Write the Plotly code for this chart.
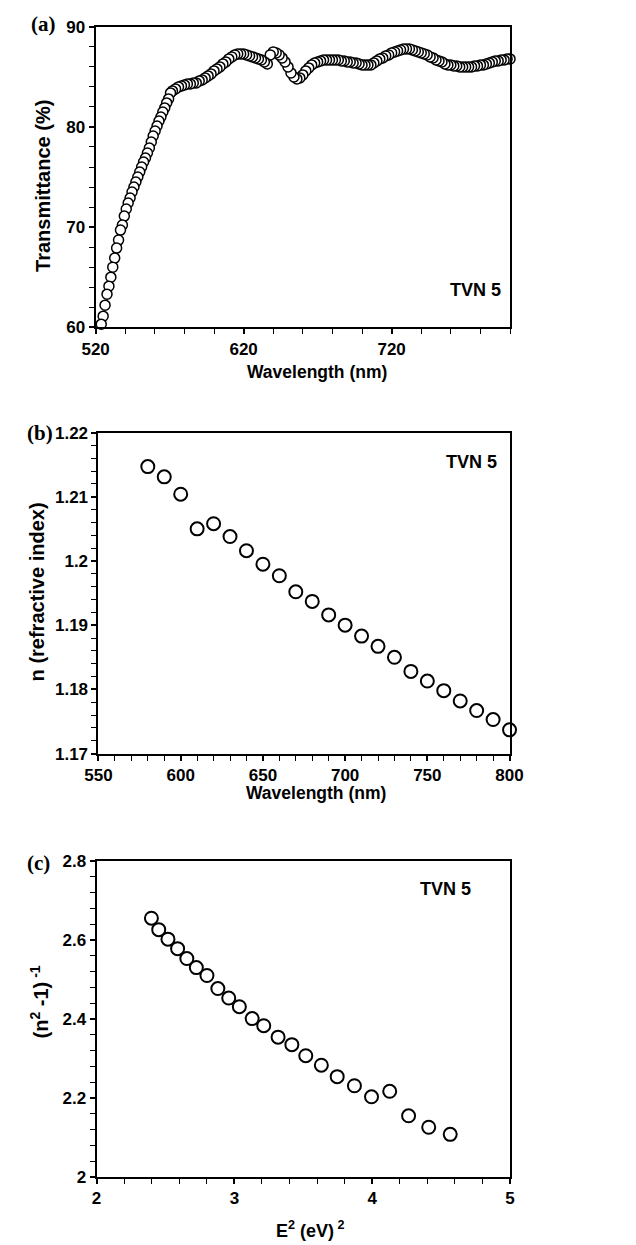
import plotly.graph_objects as go

W, H = 636, 1245

# ---------------- Panel (a): transmittance spectrum ----------------
wl_a = [523.8, 525.1, 526.4, 527.7, 529.0, 530.3, 531.6, 532.9, 534.2, 535.5,
        536.8, 538.1, 539.4, 540.7, 542.0, 543.3, 544.6, 545.9, 547.2, 548.5,
        549.8, 551.1, 552.4, 553.7, 555.0, 556.3, 557.6, 558.9, 560.2, 561.5,
        562.8, 564.1, 565.4, 566.7, 568.0, 569.3, 570.6, 571.9,
        574, 576, 578, 580, 582, 584, 586, 588, 590, 592, 594, 596, 598, 600,
        602, 604, 606, 608, 610, 612, 614, 616, 618, 620, 622, 624, 626, 628,
        630, 632, 634, 636, 638, 640, 642, 644, 646, 648, 650, 652, 654, 656,
        658, 660, 662, 664, 666, 668, 670, 672, 674, 676, 678, 680, 682, 684,
        686, 688, 690, 692, 694, 696, 698, 700, 702, 704, 706, 708, 710, 712,
        714, 716, 718, 720, 722, 724, 726, 728, 730, 732, 734, 736, 738, 740,
        742, 744, 746, 748, 750, 752, 754, 756, 758, 760, 762, 764, 766, 768,
        770, 772, 774, 776, 778, 780, 782, 784, 786, 788, 790, 792, 794, 796,
        798, 800]
tr_a = [60.3, 61.1, 62.2, 63.3, 64.1, 65.0, 66.0, 66.9, 67.9, 68.7,
        69.7, 70.2, 71.1, 71.8, 72.4, 72.9, 73.5, 74.0, 74.5, 75.0,
        75.5, 76.0, 76.5, 76.9, 77.4, 77.9, 78.5, 79.1, 79.6, 80.1,
        80.6, 81.0, 81.5, 81.9, 82.4, 82.8, 83.4, 83.6,
        83.8, 84.0, 84.1, 84.2, 84.3, 84.3, 84.4, 84.4, 84.6, 84.7, 84.9, 85.1, 85.3, 85.6,
        85.8, 86.0, 86.3, 86.5, 86.8, 87.0, 87.2, 87.3, 87.3, 87.3, 87.2, 87.1, 87.0, 86.9,
        86.8, 86.7, 86.5, 86.3, 87.2, 87.5, 87.4, 87.2, 86.9, 86.5, 86.0, 85.4, 85.0, 84.8,
        84.9, 85.2, 85.6, 85.9, 86.2, 86.4, 86.5, 86.6, 86.7, 86.7, 86.7, 86.7, 86.7, 86.7,
        86.6, 86.6, 86.5, 86.5, 86.4, 86.4, 86.3, 86.2, 86.2, 86.2, 86.2, 86.4, 86.6, 86.8,
        86.9, 87.1, 87.2, 87.4, 87.5, 87.6, 87.7, 87.8, 87.8, 87.8, 87.7, 87.6, 87.5, 87.4,
        87.3, 87.2, 87.0, 86.9, 86.7, 86.6, 86.5, 86.3, 86.2, 86.2, 86.1, 86.1, 86.0, 86.0,
        86.0, 86.0, 86.0, 86.1, 86.1, 86.2, 86.2, 86.3, 86.4, 86.5, 86.6, 86.6, 86.7, 86.7,
        86.8, 86.8]

# ---------------- Panel (b): refractive index ----------------
wl_b = [580, 590, 600, 610, 620, 630, 640, 650, 660, 670, 680, 690,
        700, 710, 720, 730, 740, 750, 760, 770, 780, 790, 800]
n_b = [1.2147, 1.2131, 1.2104, 1.2050, 1.2058, 1.2038, 1.2016, 1.1995,
       1.1977, 1.1952, 1.1937, 1.1916, 1.1900, 1.1883, 1.1867, 1.1850,
       1.1828, 1.1813, 1.1798, 1.1782, 1.1767, 1.1753, 1.1737]

# ---------------- Panel (c): (n^2-1)^-1 vs E^2 ----------------
e2_c = [2.398, 2.451, 2.518, 2.588, 2.655, 2.724, 2.801, 2.880, 2.959,
        3.036, 3.129, 3.213, 3.317, 3.417, 3.518, 3.631, 3.746, 3.871,
        3.995, 4.127, 4.264, 4.410, 4.566]
inv_c = [2.655, 2.626, 2.602, 2.578, 2.553, 2.530, 2.510, 2.477, 2.453,
         2.431, 2.401, 2.383, 2.354, 2.335, 2.307, 2.283, 2.254, 2.231,
         2.203, 2.217, 2.155, 2.126, 2.108]

# tick labels
xt_a = [520, 620, 720]
yt_a = [60, 70, 80, 90]
yt_b = [1.17, 1.18, 1.19, 1.20, 1.21, 1.22]
yt_b_txt = ["1.17", "1.18", "1.19", "1.2", "1.21", "1.22"]
yt_c = [2.0, 2.2, 2.4, 2.6, 2.8]
yt_c_txt = ["2", "2.2", "2.4", "2.6", "2.8"]

FONT = "Liberation Sans"
TICKF = dict(family=FONT, size=17, color="black", weight="bold")

# panel boxes in pixels: left, right, top, bottom
BOX_A = (77, 510.5, 10, 315)
BOX_B = (80, 510, 422, 748)
BOX_C = (78, 510.5, 857, 1178)


def px(x):
    return x / W


def py(y):
    return 1 - y / H


def dom(box):
    l, r, t, b = box
    return [px(l), px(r)], [py(b), py(t)]


fig = go.Figure()

fig.add_trace(go.Scatter(
    x=wl_a[::-1], y=tr_a[::-1], mode="markers", xaxis="x", yaxis="y",
    marker=dict(symbol="circle", size=10, color="white",
                line=dict(color="black", width=1.5)),
    cliponaxis=False, showlegend=False))

fig.add_trace(go.Scatter(
    x=wl_b, y=n_b, mode="markers", xaxis="x2", yaxis="y2",
    marker=dict(symbol="circle", size=13, color="white",
                line=dict(color="black", width=2)),
    cliponaxis=False, showlegend=False))

fig.add_trace(go.Scatter(
    x=e2_c, y=inv_c, mode="markers", xaxis="x3", yaxis="y3",
    marker=dict(symbol="circle", size=13, color="white",
                line=dict(color="black", width=2)),
    cliponaxis=False, showlegend=False))

common = dict(showline=True, mirror=True, linecolor="black", linewidth=2,
              ticks="outside", ticklen=5, tickwidth=1.5, tickcolor="black",
              showgrid=False, zeroline=False, tickfont=TICKF)


def minor(d):
    return dict(ticks="outside", ticklen=5, tickwidth=1.2, tickcolor="black",
                dtick=d, showgrid=False)


xa, ya = dom(BOX_A)
xb, yb = dom(BOX_B)
xc, yc = dom(BOX_C)

fig.update_layout(
    width=W, height=H, margin=dict(l=0, r=0, t=0, b=0),
    paper_bgcolor="white", plot_bgcolor="white",
    font=dict(family=FONT, color="black"),
    xaxis=dict(domain=xa, range=[520, 800], anchor="y",
               tickmode="array", tickvals=xt_a,
               minor=minor(20), **common),
    yaxis=dict(domain=ya, range=[60, 90], anchor="x",
               tickmode="array", tickvals=yt_a,
               minor=minor(2), **common),
    xaxis2=dict(domain=xb, range=[550, 800], anchor="y2",
                dtick=50, minor=minor(10), **common),
    yaxis2=dict(domain=yb, range=[1.17, 1.22], anchor="x2",
                tickmode="array", tickvals=yt_b, ticktext=yt_b_txt,
                minor=minor(0.002), **common),
    xaxis3=dict(domain=xc, range=[2, 5], anchor="y3",
                dtick=1, minor=minor(0.2), **common),
    yaxis3=dict(domain=yc, range=[2, 2.8], anchor="x3",
                tickmode="array", tickvals=yt_c, ticktext=yt_c_txt,
                minor=minor(0.04), **common),
)

ann = []


def text(x, y, s, size, angle=0, family=FONT, xanchor="center"):
    ann.append(dict(x=px(x), y=py(y), xref="paper", yref="paper",
                    text=f"<b>{s}</b>", showarrow=False,
                    textangle=angle, xanchor=xanchor, yanchor="middle",
                    font=dict(family=family, size=size, color="black")))


def mid(a, b):
    return (a + b) / 2


# panel letters
text(BOX_A[0] - 54, BOX_A[2] - 3, "(a)", 21, family="Liberation Serif")
text(BOX_B[0] - 61, BOX_B[2], "(b)", 21, family="Liberation Serif")
text(BOX_C[0] - 61, BOX_C[2] + 2, "(c)", 21, family="Liberation Serif")

# TVN 5 labels
text(BOX_A[1] - 7, BOX_A[3] - 38, "TVN 5", 18, xanchor="right")
text(BOX_B[1] - 11, BOX_B[2] + 30, "TVN 5", 18, xanchor="right")
text(BOX_C[1] - 39, BOX_C[2] + 29, "TVN 5", 18, xanchor="right")

# axis titles
text(mid(BOX_A[0], BOX_A[1]) + 15, BOX_A[3] + 45, "Wavelength (nm)", 17.5)
text(BOX_A[0] - 55, mid(BOX_A[2], BOX_A[3]) + 9, "Transmittance (%)", 20, angle=-90)
text(mid(BOX_B[0], BOX_B[1]) + 13, BOX_B[3] + 40, "Wavelength (nm)", 17.5)
text(BOX_B[0] - 64, mid(BOX_B[2], BOX_B[3]) - 1, "n (refractive index)", 20, angle=-90)
text(mid(BOX_C[0], BOX_C[1]) + 8, BOX_C[3] + 53, "E<sup>2</sup> (eV)<sup> 2</sup>", 18)
text(BOX_C[0] - 60, mid(BOX_C[2], BOX_C[3]) - 17, "(n<sup>2</sup> -1)<sup> -1</sup>", 20, angle=-90)

fig.update_layout(annotations=ann)

fig.write_html("out.html")
